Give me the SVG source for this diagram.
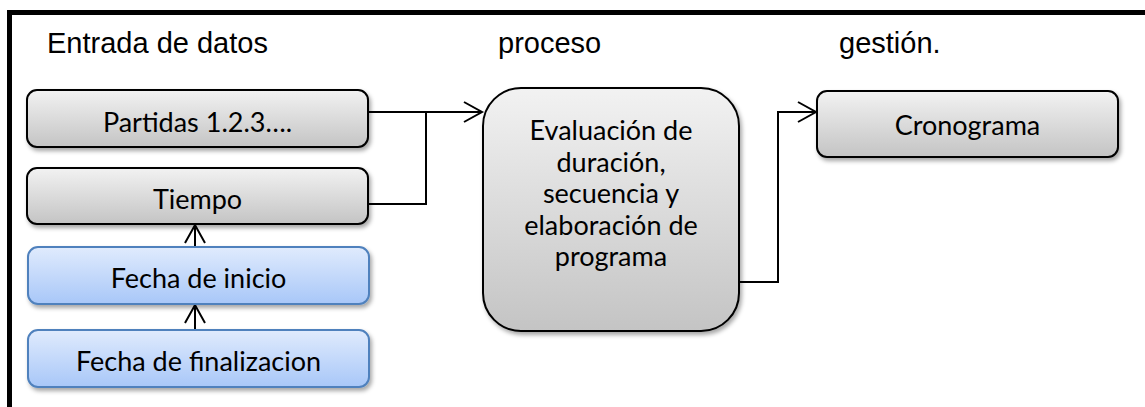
<svg xmlns="http://www.w3.org/2000/svg" width="1145" height="407" viewBox="0 0 1145 407">
  <defs>
    <linearGradient id="gGray" x1="0" y1="0" x2="0" y2="1">
      <stop offset="0" stop-color="#f2f2f2"/>
      <stop offset="1" stop-color="#c4c4c4"/>
    </linearGradient>
    <linearGradient id="gBlue" x1="0" y1="0" x2="0" y2="1">
      <stop offset="0" stop-color="#e0ebfd"/>
      <stop offset="1" stop-color="#a8c7f8"/>
    </linearGradient>
    <filter id="shadow" x="-10%" y="-20%" width="130%" height="160%">
      <feDropShadow dx="2" dy="3" stdDeviation="2" flood-color="#000" flood-opacity="0.35"/>
    </filter>
    <marker id="arr" markerUnits="userSpaceOnUse" markerWidth="24" markerHeight="24" refX="20" refY="12" orient="auto">
      <path d="M2,2 L20,12 L2,22" fill="none" stroke="#000" stroke-width="2"/>
    </marker>
  </defs>
  <style>
    .hdr { font-family: "Liberation Sans", Arial, sans-serif; font-size: 29px; fill: #000; }
    .lbl { font-family: Lato, "Liberation Sans", sans-serif; font-size: 27px; fill: #000; text-anchor: middle; }
    .gray { fill: url(#gGray); stroke: #000; stroke-width: 2; filter: url(#shadow); }
    .blue { fill: url(#gBlue); stroke: #4f81bd; stroke-width: 2; filter: url(#shadow); }
    .conn { fill: none; stroke: #000; stroke-width: 2; }
  </style>
  <rect width="1145" height="407" fill="#fff"/>
  <!-- frame -->
  <path d="M9.5,407 V12.5 H1145" fill="none" stroke="#000" stroke-width="5"/>

  <text class="hdr" x="47" y="53">Entrada de datos</text>
  <text class="hdr" x="498" y="53">proceso</text>
  <text class="hdr" x="839" y="53">gestión.</text>

  <g id="connectors">
    <path class="conn" d="M368,112 H482" marker-end="url(#arr)"/>
    <path class="conn" d="M368,204 H426 V112"/>
    <path class="conn" d="M195,247 V225" marker-end="url(#arr)"/>
    <path class="conn" d="M195,330 V305" marker-end="url(#arr)"/>
    <path class="conn" d="M739,282 H778 V112 H816" marker-end="url(#arr)"/>
  </g>

  <g id="partidas">
    <rect class="gray" x="27" y="90" width="341" height="57" rx="10"/>
    <text class="lbl" x="197.5" y="132">Partidas 1.2.3….</text>
  </g>
  <g id="tiempo">
    <rect class="gray" x="27" y="168" width="341" height="56" rx="10"/>
    <text class="lbl" x="197.5" y="209">Tiempo</text>
  </g>
  <g id="fecha-inicio">
    <rect class="blue" x="28" y="247" width="341" height="57" rx="10"/>
    <text class="lbl" x="198.5" y="288">Fecha de inicio</text>
  </g>
  <g id="fecha-fin">
    <rect class="blue" x="28" y="330" width="341" height="57" rx="10"/>
    <text class="lbl" x="198.5" y="371">Fecha de finalizacion</text>
  </g>
  <g id="proceso">
    <rect class="gray" x="483" y="88" width="256" height="243" rx="38"/>
    <text class="lbl" x="611" y="140">Evaluación de</text>
    <text class="lbl" x="611" y="171.5">duración,</text>
    <text class="lbl" x="611" y="203">secuencia y</text>
    <text class="lbl" x="611" y="234.5">elaboración de</text>
    <text class="lbl" x="611" y="266">programa</text>
  </g>
  <g id="cronograma">
    <rect class="gray" x="817" y="91" width="301" height="66" rx="10"/>
    <text class="lbl" x="967.5" y="135">Cronograma</text>
  </g>
</svg>
